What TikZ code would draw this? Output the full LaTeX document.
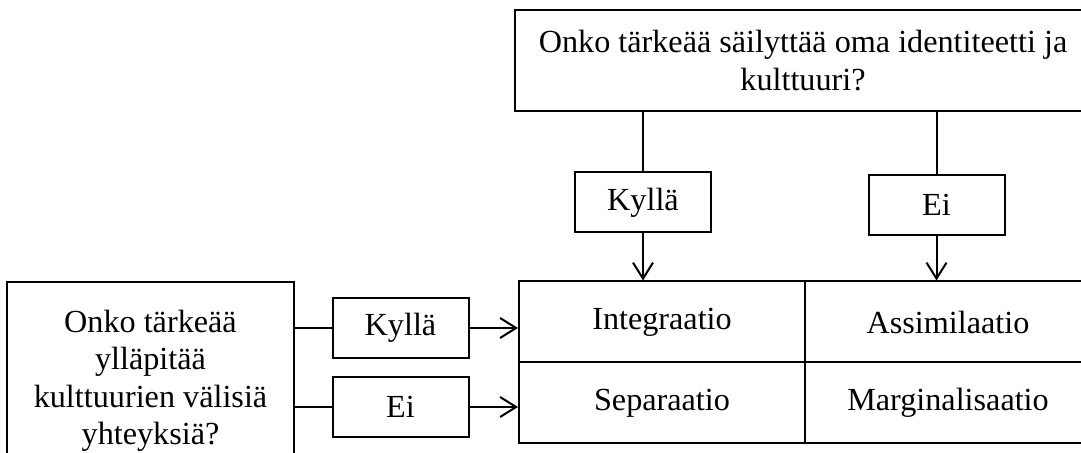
\documentclass[tikz,border=0pt]{standalone}
\usepackage{fontspec}
\setmainfont{Liberation Serif}
\usetikzlibrary{positioning}
\usetikzlibrary{arrows.meta}

\begin{document}
\begin{tikzpicture}[
        x=0.5pt, y=0.5pt,
        every node/.style={font=\fontsize{16.1}{18.75}\selectfont},
        question/.style={rectangle, draw=black, line width=1pt, align=center, inner sep=0pt},
        answer/.style={rectangle, draw=black, line width=1pt, minimum width=68pt, minimum height=30pt, inner sep=0pt},
        cell/.style={rectangle, draw=black, line width=1pt, minimum width=143pt, minimum height=40.5pt, inner sep=0pt},
        line width=1pt,
        arr/.style={-{Straight Barb[length=8pt,width=10pt,line width=1pt]}}
    ]
    \useasboundingbox (0,0) rectangle (1081,453);
    \clip (0,0) rectangle (1081,453);

    % Question about identity
    \node[question, minimum width=288pt, minimum height=50.5pt] at (803,392.5) (identity)
        {Onko tärkeää säilyttää oma identiteetti ja\\kulttuuri?};

    % Question about contacts
    \node[question, minimum width=143.5pt, minimum height=99pt] at (150.5,72) (contact)
        {Onko tärkeää\\ylläpitää\\kulttuurien välisiä\\yhteyksiä?};

    % Answers
    \node[answer] at (643,250.5) (yesTop) {Kyllä};
    \node[answer] at (936.5,248) (noTop) {Ei};
    \node[answer] at (400.5,125) (yesLeft) {Kyllä};
    \node[answer] at (400.5,46) (noLeft) {Ei};

    % Strategies
    \node[cell] at (662,131) (integ) {Integraatio};
    \node[cell] at (948,131) (assim) {Assimilaatio};
    \node[cell] at (662,50) (separ) {Separaatio};
    \node[cell] at (948,50) (margin) {Marginalisaatio};

    % Lines
    \draw (yesTop.north |- identity.south) -- (yesTop.north);
    \draw (noTop.north |- identity.south) -- (noTop.north);
    \draw (contact.east |- yesLeft.west) -- (yesLeft.west);
    \draw (contact.east |- noLeft.west) -- (noLeft.west);

    % Arrows
    \draw[arr] (yesTop.south) -- (yesTop.south |- integ.north);
    \draw[arr] (noTop.south) -- (noTop.south |- assim.north);
    \draw[arr] (yesLeft.east) -- (yesLeft.east -| integ.west);
    \draw[arr] (noLeft.east) -- (noLeft.east -| separ.west);

\end{tikzpicture}
\end{document}
